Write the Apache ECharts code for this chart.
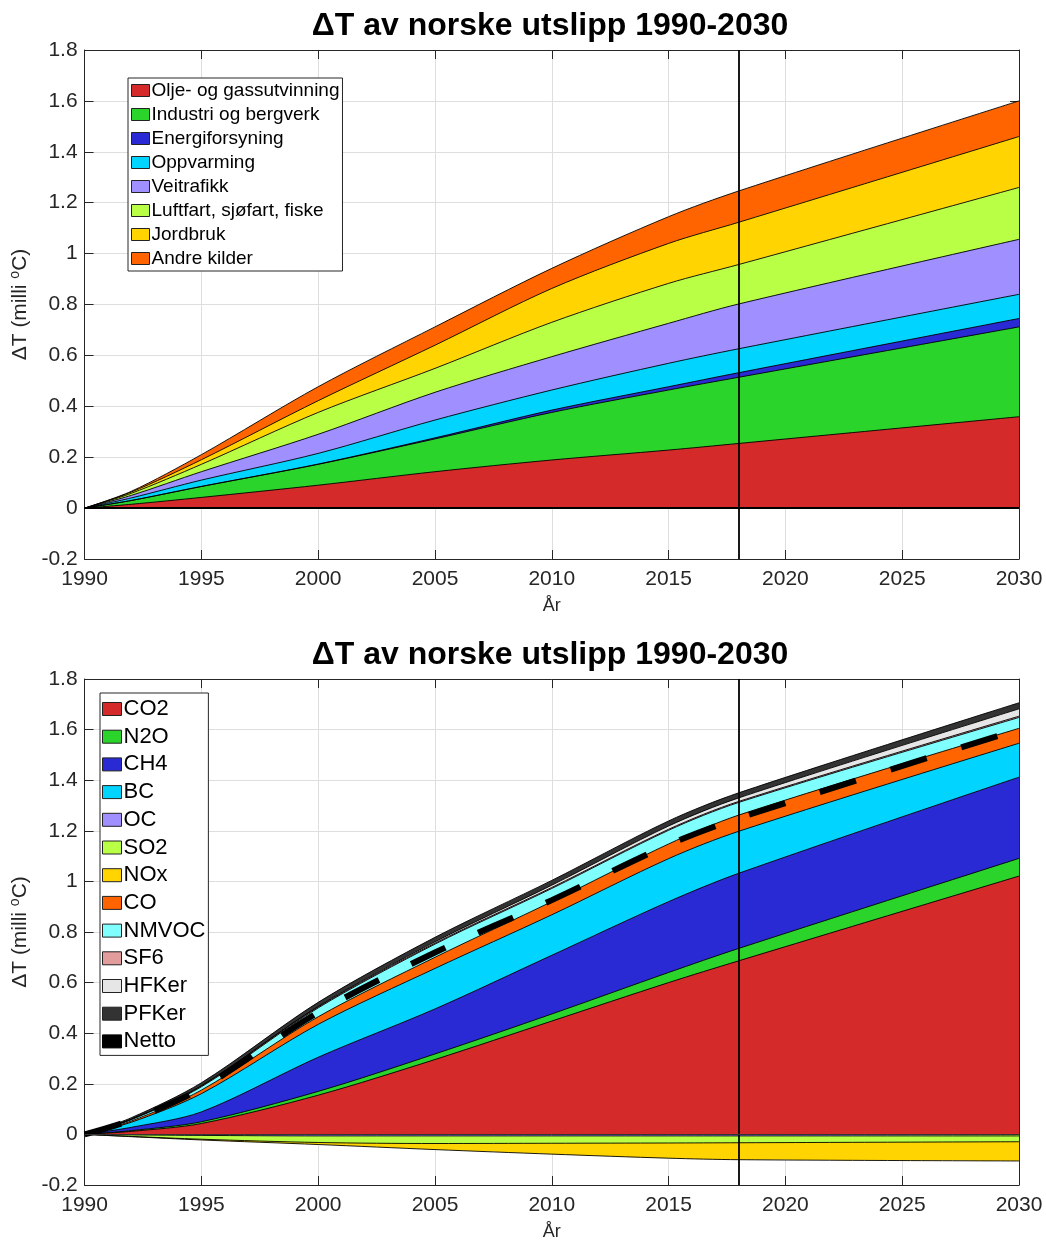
<!DOCTYPE html>
<html>
<head>
<meta charset="utf-8">
<script src="https://cdn.jsdelivr.net/npm/echarts@6/dist/echarts.min.js"></script>
<style>
  html, body { margin: 0; padding: 0; background: #fff; }
  #chart { width: 1046px; height: 1242px; }
</style>
</head>
<body>
<div id="chart"></div>
<script>
// Years at which the temperature contributions are given (milli °C)
const years = [1990, 1992, 1995, 2000, 2005, 2010, 2015, 2018, 2030];

// Upper panel: contribution per emission source
const oljeGass    = [0, 0.015, 0.042, 0.090, 0.143, 0.189, 0.228, 0.254, 0.359];
const industri    = [0, 0.015, 0.043, 0.082, 0.129, 0.187, 0.236, 0.260, 0.353];
const energi      = [0, 0.000, 0.000, 0.001, 0.004, 0.009, 0.013, 0.018, 0.033];
const oppvarming  = [0, 0.010, 0.025, 0.042, 0.070, 0.079, 0.092, 0.094, 0.095];
const veitrafikk  = [0, 0.010, 0.033, 0.075, 0.109, 0.131, 0.157, 0.176, 0.216];
const luftfart    = [0, 0.008, 0.029, 0.086, 0.094, 0.135, 0.157, 0.155, 0.204];
const jordbruk    = [0, 0.005, 0.018, 0.046, 0.091, 0.133, 0.157, 0.166, 0.200];
const andreKilder = [0, 0.003, 0.020, 0.055, 0.072, 0.079, 0.105, 0.123, 0.140];

// Lower panel: contribution per component
const co2   = [0, 0.012, 0.043, 0.155, 0.296, 0.448, 0.600, 0.686, 1.021];
const n2o   = [0, 0.003, 0.007, 0.015, 0.022, 0.028, 0.040, 0.049, 0.070];
const ch4   = [0, 0.013, 0.039, 0.135, 0.178, 0.232, 0.280, 0.297, 0.321];
const bc    = [0, 0.020, 0.072, 0.130, 0.160, 0.160, 0.170, 0.166, 0.134];
const oc    = [0, -0.002, -0.004, -0.006, -0.006, -0.006, -0.006, -0.006, -0.006];
const so2   = [0, -0.006, -0.015, -0.026, -0.030, -0.029, -0.028, -0.027, -0.023];
const nox   = [0, -0.001, -0.003, -0.008, -0.024, -0.043, -0.060, -0.067, -0.076];
const co    = [0, 0.005, 0.014, 0.030, 0.044, 0.052, 0.058, 0.064, 0.059];
const nmvoc = [0, 0.005, 0.013, 0.035, 0.052, 0.052, 0.054, 0.050, 0.043];
const sf6   = [0, 0.002, 0.004, 0.004, 0.004, 0.004, 0.004, 0.004, 0.005];
const hfk   = [0, 0.000, 0.000, 0.002, 0.005, 0.009, 0.013, 0.014, 0.029];
const pfk   = [0, 0.006, 0.012, 0.016, 0.018, 0.019, 0.020, 0.020, 0.024];

// Axis settings
const xTicks = { min: 1990, max: 2030, interval: 5 };
const yTicks = { min: -0.2, max: 1.8, interval: 0.2 };
const markYear = 2018;
const title = 'ΔT av norske utslipp 1990-2030';

const sources = [
  ['Olje- og gassutvinning', oljeGass, '#D42A2A'],
  ['Industri og bergverk', industri, '#2AD42A'],
  ['Energiforsyning', energi, '#2A2AD4'],
  ['Oppvarming', oppvarming, '#00D4FF'],
  ['Veitrafikk', veitrafikk, '#9F8FFF'],
  ['Luftfart, sjøfart, fiske', luftfart, '#B8FF45'],
  ['Jordbruk', jordbruk, '#FFD400'],
  ['Andre kilder', andreKilder, '#FF6400']
];
const components = [
  ['CO2', co2, '#D42A2A'],
  ['N2O', n2o, '#2AD42A'],
  ['CH4', ch4, '#2A2AD4'],
  ['BC', bc, '#00D4FF'],
  ['OC', oc, '#9F8FFF'],
  ['SO2', so2, '#B8FF45'],
  ['NOx', nox, '#FFD400'],
  ['CO', co, '#FF6400'],
  ['NMVOC', nmvoc, '#80FFFF'],
  ['SF6', sf6, '#E39C9C'],
  ['HFKer', hfk, '#E6E6E6'],
  ['PFKer', pfk, '#333333']
];
const netto = years.map((y, i) => components.reduce((s, c) => s + c[1][i], 0));

const AX = '#262626';
const FONT = '"Liberation Sans", Arial, sans-serif';

// Cumulative boundaries: positive layers stack upwards, negative ones downwards,
// each in list order starting from zero.
function cumulate(list) {
  const pos = years.map(() => 0);
  const neg = years.map(() => 0);
  return list.map(item => {
    const vals = item[1];
    const isNeg = vals.some(v => v < 0);
    const acc = isNeg ? neg : pos;
    const edge = vals.map((v, i) => { acc[i] += v; return acc[i]; });
    return { name: item[0], color: item[2], edge: edge };
  });
}

function pairs(values) { return years.map((y, i) => [y, values[i]]); }

function band(layer, panel) {
  return {
    type: 'line', name: layer.name,
    xAxisIndex: panel * 2, yAxisIndex: panel * 2,
    data: pairs(layer.edge),
    symbol: 'none', showSymbol: false,
    smooth: 0.3,
    lineStyle: { color: '#000', width: 0.9 },
    areaStyle: { color: layer.color, opacity: 1, origin: 0 },
    itemStyle: { color: layer.color },
    emphasis: { disabled: true },
    silent: true
  };
}

function vLine(extra) {
  const data = [{ xAxis: markYear }];
  if (extra) data.push(extra);
  return {
    silent: true, symbol: ['none', 'none'], label: { show: false },
    lineStyle: { color: '#000', width: 1.8, type: 'solid' },
    data: data
  };
}

function xAxes(grid) {
  return [
    {
      type: 'value', gridIndex: grid, position: 'bottom',
      min: xTicks.min, max: xTicks.max, interval: xTicks.interval,
      name: 'År', nameLocation: 'middle', nameGap: 38,
      nameTextStyle: { fontSize: 18, color: AX, fontFamily: FONT },
      axisLine: { show: true, onZero: false, lineStyle: { color: AX, width: 1 } },
      axisTick: { show: true, inside: true, length: 9, lineStyle: { color: AX } },
      axisLabel: { fontSize: 21, color: AX, fontFamily: FONT, margin: 10, formatter: v => String(v) },
      splitLine: { show: true, lineStyle: { color: '#dedede', width: 1 } }
    },
    {
      type: 'value', gridIndex: grid, position: 'top',
      min: xTicks.min, max: xTicks.max, interval: xTicks.interval,
      axisLine: { show: true, onZero: false, lineStyle: { color: AX, width: 1 } },
      axisTick: { show: true, inside: true, length: 9, lineStyle: { color: AX } },
      axisLabel: { show: false }, splitLine: { show: false }
    }
  ];
}

function yAxes(grid) {
  return [
    {
      type: 'value', gridIndex: grid, position: 'left',
      min: yTicks.min, max: yTicks.max, interval: yTicks.interval,
      name: '{a|ΔT (milli }{s|o}{a|C)}', nameLocation: 'middle', nameGap: 42, nameRotate: 90,
      nameTextStyle: {
        color: AX, fontFamily: FONT,
        rich: {
          a: { fontSize: 21, color: AX, fontFamily: FONT, lineHeight: 24 },
          s: { fontSize: 14, color: AX, fontFamily: FONT, verticalAlign: 'top', lineHeight: 24 }
        }
      },
      axisLine: { show: true, onZero: false, lineStyle: { color: AX, width: 1 } },
      axisTick: { show: true, inside: true, length: 9, lineStyle: { color: AX } },
      axisLabel: { fontSize: 21, color: AX, fontFamily: FONT, margin: 7 },
      splitLine: { show: true, lineStyle: { color: '#dedede', width: 1 } }
    },
    {
      type: 'value', gridIndex: grid, position: 'right',
      min: yTicks.min, max: yTicks.max, interval: yTicks.interval,
      axisLine: { show: true, onZero: false, lineStyle: { color: AX, width: 1 } },
      axisTick: { show: true, inside: true, length: 9, lineStyle: { color: AX } },
      axisLabel: { show: false }, splitLine: { show: false }
    }
  ];
}

// Outermost boundaries are drawn first so the inner layers paint over them.
function farthestFirst(layers) {
  return layers.slice().sort((a, b) => {
    const ea = a.edge[a.edge.length - 1], eb = b.edge[b.edge.length - 1];
    return Math.abs(eb) - Math.abs(ea);
  });
}

const series = [];
farthestFirst(cumulate(sources)).forEach(l => series.push(band(l, 0)));
farthestFirst(cumulate(components)).forEach(l => series.push(band(l, 1)));

series.push({
  type: 'line', name: 'Netto', xAxisIndex: 2, yAxisIndex: 2,
  data: pairs(netto), symbol: 'none', showSymbol: false, smooth: 0.3,
  lineStyle: { color: '#000', width: 6, type: [38, 36], cap: 'butt' },
  itemStyle: { color: '#000' }, emphasis: { disabled: true }, silent: true, z: 3,
  markLine: vLine({ yAxis: 0, lineStyle: { color: '#333', width: 1 } })
});
// Reference lines for the upper panel: the year marker and the zero baseline
series.push({
  type: 'line', xAxisIndex: 0, yAxisIndex: 0, data: [], silent: true,
  markLine: vLine({ yAxis: 0, lineStyle: { color: '#000', width: 2 } })
});

function legendData(list) {
  return list.map(d => ({
    name: d[0],
    itemStyle: { color: d[2], borderColor: '#222', borderWidth: 1 }
  }));
}

const option = {
  animation: false,
  backgroundColor: '#fff',
  textStyle: { fontFamily: FONT },
  grid: [
    { left: 81, top: 50, width: 938, height: 509 },
    { left: 81, top: 679, width: 938, height: 508 }
  ],
  xAxis: xAxes(0).concat(xAxes(1)),
  yAxis: yAxes(0).concat(yAxes(1)),
  legend: [
    {
      orient: 'vertical', left: 128, top: 78,
      data: legendData(sources), icon: 'rect',
      itemWidth: 18, itemHeight: 12, itemGap: 5,
      padding: [3, 3, 3, 3],
      backgroundColor: '#fff', borderColor: AX, borderWidth: 1, borderRadius: 0,
      textStyle: { fontSize: 19, color: '#000', fontFamily: FONT, padding: [0, 0, 0, -3] },
      selectedMode: false
    },
    {
      orient: 'vertical', left: 100, top: 693,
      data: legendData(components).concat([{ name: 'Netto', itemStyle: { color: '#000', borderColor: '#000', borderWidth: 1 } }]),
      icon: 'rect',
      itemWidth: 19, itemHeight: 13, itemGap: 5.7,
      padding: [5, 3, 3, 2],
      backgroundColor: '#fff', borderColor: AX, borderWidth: 1, borderRadius: 0,
      textStyle: { fontSize: 22, color: '#000', fontFamily: FONT, padding: [0, 0, 0, -3] },
      selectedMode: false
    }
  ],
  graphic: [
    { type: 'text', x: 550, y: 26, style: { text: title, fill: '#000', font: 'bold 32px ' + FONT, textAlign: 'center', textVerticalAlign: 'middle' } },
    { type: 'text', x: 550, y: 655, style: { text: title, fill: '#000', font: 'bold 32px ' + FONT, textAlign: 'center', textVerticalAlign: 'middle' } }
  ],
  series: series
};

const chart = echarts.init(document.getElementById('chart'), null, { renderer: 'canvas' });
chart.setOption(option);
</script>
</body>
</html>
